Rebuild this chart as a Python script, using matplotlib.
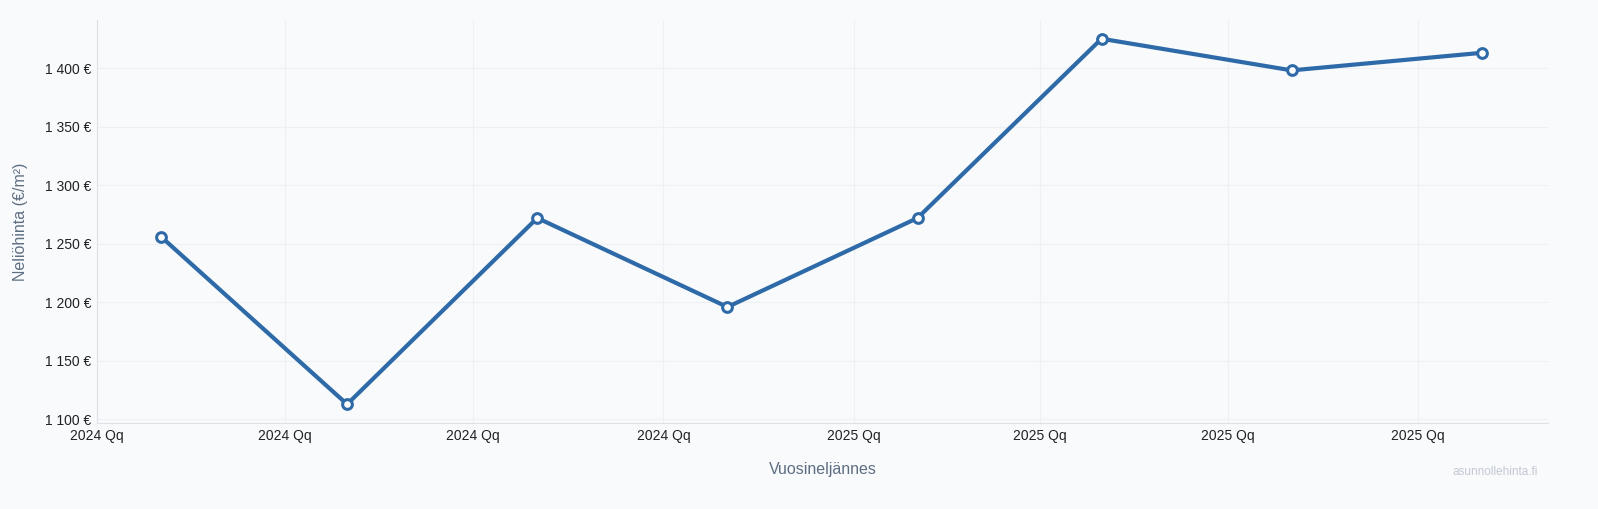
import matplotlib.pyplot as plt
import pandas as pd

plt.rcParams['font.family'] = ['Liberation Sans', 'DejaVu Sans']

# Neliöhinnat vuosineljänneksittäin
pisteet = pd.to_datetime(["2024-02-01", "2024-05-01", "2024-08-01", "2024-11-01",
                          "2025-02-01", "2025-05-01", "2025-08-01", "2025-11-01"])
hinnat = [1256, 1113, 1272, 1196, 1272, 1425, 1398, 1413]
tikit = pd.to_datetime(["2024-01-01", "2024-04-01", "2024-07-01", "2024-10-01",
                        "2025-01-01", "2025-04-01", "2025-07-01", "2025-10-01"])
tikki_tekstit = ["2024 Qq"] * 4 + ["2025 Qq"] * 4
y_tikit = [1100, 1150, 1200, 1250, 1300, 1350, 1400]

tausta = "#f8fafc"
sininen = "#2e6aa8"

fig = plt.figure(figsize=(15.98, 5.09), dpi=100, facecolor=tausta)
ax = fig.add_axes([97 / 1598, 1 - 423 / 509, (1548 - 97) / 1598, (423 - 20) / 509])
ax.set_facecolor(tausta)

ax.plot(pisteet, hinnat, color=sininen, lw=3, marker="o", ms=7,
        mfc="white", mec=sininen, mew=2.2, zorder=3)

ax.set_xlim(pd.Timestamp("2024-01-01"), pd.Timestamp("2025-12-03"))
ax.set_ylim(1097, 1441)
ax.set_xticks(tikit)
ax.set_xticklabels(tikki_tekstit)
ax.set_yticks(y_tikit)
ax.set_yticklabels([f"{v // 1000} {v % 1000:03d} €" for v in y_tikit])
ax.tick_params(labelsize=10, colors="#222222", length=0, pad=4)
ax.grid(True, color="#eef1f4", lw=0.8)
for s in ["top", "right"]:
    ax.spines[s].set_visible(False)
for s in ["left", "bottom"]:
    ax.spines[s].set_color("#dde2e8")

ax.set_xlabel("Vuosineljännes", fontsize=11.5, color="#5f6f82", labelpad=14)
ax.set_ylabel("Neliöhinta (€/m²)", fontsize=11.5, color="#5f6f82", labelpad=12)
fig.text(1538 / 1598, 1 - 472 / 509, "asunnollehinta.fi", ha="right", va="center",
         fontsize=8.5, color="#c3c9d1")

fig.savefig("out.png", dpi=100, facecolor=tausta)
